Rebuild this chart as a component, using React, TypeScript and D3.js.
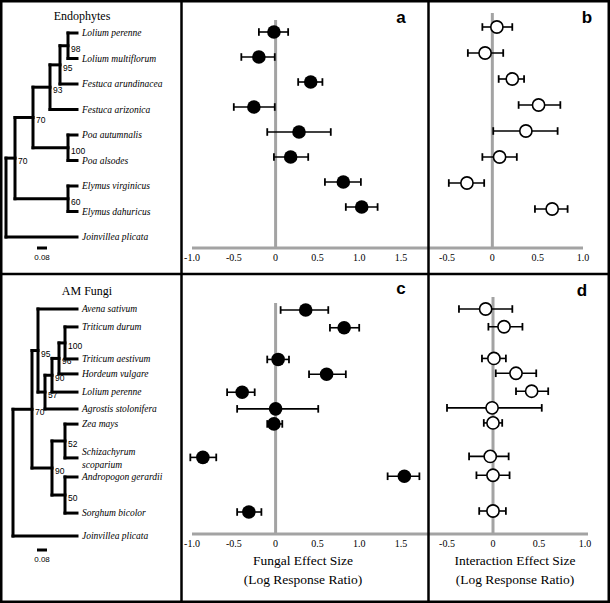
import React, { useEffect } from "react";
import * as d3 from "d3";

const W = 610;
const H = 603;

// ---------- Endophytes ----------
const endoSpecies = [
  "Lolium perenne",
  "Lolium multiflorum",
  "Festuca arundinacea",
  "Festuca arizonica",
  "Poa autumnalis",
  "Poa alsodes",
  "Elymus virginicus",
  "Elymus dahuricus",
  "Joinvillea plicata",
];
const endoFungal = [-0.02, -0.2, 0.42, -0.26, 0.28, 0.18, 0.81, 1.03];
const endoFungalLo = [-0.2, -0.41, 0.27, -0.5, -0.1, -0.02, 0.59, 0.84];
const endoFungalHi = [0.15, -0.01, 0.56, -0.01, 0.66, 0.39, 1.02, 1.22];
const endoInter = [0.05, -0.08, 0.22, 0.51, 0.37, 0.08, -0.28, 0.66];
const endoInterLo = [-0.11, -0.27, 0.07, 0.29, 0.01, -0.11, -0.48, 0.47];
const endoInterHi = [0.22, 0.12, 0.35, 0.75, 0.72, 0.27, -0.09, 0.83];

// ---------- AM Fungi ----------
const amSpecies = [
  "Avena sativum",
  "Triticum durum",
  "Triticum aestivum",
  "Hordeum vulgare",
  "Lolium perenne",
  "Agrostis stolonifera",
  "Zea mays",
  "Schizachyrum scoparium",
  "Andropogon gerardii",
  "Sorghum bicolor",
  "Joinvillea plicata",
];
const amWrapped = ["Schizachyrum scoparium"];
const amRows = [0, 0.79, 2.2, 2.86, 3.66, 4.4, 5.07, 6.56, 7.4, 8.99, 10];
const amFungal = [0.36, 0.82, 0.03, 0.61, -0.4, 0.0, -0.02, -0.87, 1.54, -0.32];
const amFungalLo = [0.06, 0.65, -0.1, 0.4, -0.58, -0.46, -0.1, -1.02, 1.34, -0.46];
const amFungalHi = [0.63, 1.0, 0.16, 0.84, -0.25, 0.51, 0.08, -0.71, 1.72, -0.17];
const amInter = [-0.08, 0.12, 0.01, 0.25, 0.42, -0.01, 0.0, -0.03, 0.0, 0.0];
const amInterLo = [-0.37, -0.05, -0.12, 0.03, 0.25, -0.5, -0.1, -0.26, -0.18, -0.15];
const amInterHi = [0.21, 0.32, 0.14, 0.47, 0.6, 0.53, 0.1, 0.17, 0.18, 0.14];

// ---------- Axis ticks ----------
const fungalTicks = [-1.0, -0.5, 0, 0.5, 1.0, 1.5];
const interTicks = [-0.5, 0, 0.5, 1.0];
const fungalTitle = ["Fungal Effect Size", "(Log Response Ratio)"];
const interTitle = ["Interaction Effect Size", "(Log Response Ratio)"];

// ---------- Trees (depth in branch-length units, leaf = row index) ----------
type TNode = { d: number; s?: string; c?: TNode[]; leaf?: number };
const L = (i: number, d: number): TNode => ({ d, leaf: i });

const endoTip = 0.568;
const endoTree: TNode = {
  d: 0,
  c: [
    {
      d: 0.072,
      s: "70",
      c: [
        {
          d: 0.216,
          s: "70",
          c: [
            {
              d: 0.352,
              s: "93",
              c: [
                {
                  d: 0.432,
                  s: "95",
                  c: [
                    { d: 0.496, s: "98", c: [L(0, endoTip), L(1, endoTip)] },
                    L(2, endoTip),
                  ],
                },
                L(3, endoTip),
              ],
            },
            { d: 0.496, s: "100", c: [L(4, endoTip), L(5, endoTip)] },
          ],
        },
        { d: 0.496, s: "60", c: [L(6, endoTip), L(7, endoTip)] },
      ],
    },
    L(8, endoTip),
  ],
};

const amTip = 0.512;
const amTree: TNode = {
  d: 0,
  c: [
    {
      d: 0.152,
      s: "70",
      c: [
        {
          d: 0.2,
          s: "95",
          c: [
            L(0, amTip),
            {
              d: 0.256,
              s: "57",
              c: [
                {
                  d: 0.312,
                  s: "90",
                  c: [
                    {
                      d: 0.368,
                      s: "96",
                      c: [
                        { d: 0.416, s: "100", c: [L(1, amTip), L(2, amTip)] },
                        L(3, amTip),
                      ],
                    },
                    L(4, amTip),
                  ],
                },
                L(5, amTip),
              ],
            },
          ],
        },
        {
          d: 0.312,
          s: "90",
          c: [
            { d: 0.416, s: "52", c: [L(6, amTip), L(7, amTip)] },
            { d: 0.416, s: "50", c: [L(8, amTip), L(9, amTip)] },
          ],
        },
      ],
    },
    L(10, amTip),
  ],
};

const scaleBarLen = 0.08;

const SERIF = "'Liberation Serif', 'Times New Roman', serif";
const SANS = "'Liberation Sans', Arial, sans-serif";
const GRAY = "#a3a3a3";

function Tree({
  root,
  x,
  y,
  labels,
  wrapped,
  barStart,
  barY,
}: {
  root: TNode;
  x: d3.ScaleLinear<number, number>;
  y: (leaf: number) => number;
  labels: string[];
  wrapped: string[];
  barStart: number;
  barY: number;
}) {
  const lines: JSX.Element[] = [];
  const texts: JSX.Element[] = [];
  let k = 0;
  const walk = (n: TNode): number => {
    if (n.leaf !== undefined) {
      const yy = y(n.leaf);
      const name = labels[n.leaf];
      const lx = x(n.d) + 5;
      if (wrapped.includes(name)) {
        const parts = name.split(" ");
        texts.push(
          <text key={"t" + k++} x={lx} y={yy - 3} fontFamily={SERIF} fontStyle="italic" fontSize={9.5}>
            {parts[0]}
          </text>
        );
        texts.push(
          <text key={"t" + k++} x={lx} y={yy + 10} fontFamily={SERIF} fontStyle="italic" fontSize={9.5}>
            {parts[1]}
          </text>
        );
      } else {
        texts.push(
          <text key={"t" + k++} x={lx} y={yy + 3} fontFamily={SERIF} fontStyle="italic" fontSize={9.5}>
            {name}
          </text>
        );
      }
      return yy;
    }
    const ys = (n.c || []).map((ch) => {
      const cy = walk(ch);
      lines.push(
        <line key={"l" + k++} x1={x(n.d)} x2={x(ch.d)} y1={cy} y2={cy} stroke="#000" strokeWidth={3} strokeLinecap="square" />
      );
      return cy;
    });
    const y0 = d3.min(ys)!;
    const y1 = d3.max(ys)!;
    lines.push(
      <line key={"l" + k++} x1={x(n.d)} x2={x(n.d)} y1={y0} y2={y1} stroke="#000" strokeWidth={3} strokeLinecap="square" />
    );
    const my = (y0 + y1) / 2;
    if (n.s) {
      texts.push(
        <text key={"t" + k++} x={x(n.d) + 3} y={my + 6} fontFamily={SANS} fontSize={8.5}>
          {n.s}
        </text>
      );
    }
    return my;
  };
  walk(root);
  return (
    <g>
      {lines}
      {texts}
      <line x1={x(barStart)} x2={x(barStart + scaleBarLen)} y1={barY} y2={barY} stroke="#000" strokeWidth={3} />
      <text x={(x(barStart) + x(barStart + scaleBarLen)) / 2} y={barY + 12} textAnchor="middle" fontFamily={SANS} fontSize={8}>
        {scaleBarLen.toFixed(2)}
      </text>
    </g>
  );
}

function Forest({
  vals,
  lo,
  hi,
  rowY,
  x,
  filled,
}: {
  vals: number[];
  lo: number[];
  hi: number[];
  rowY: (i: number) => number;
  x: d3.ScaleLinear<number, number>;
  filled: boolean;
}) {
  return (
    <g>
      {vals.map((v, i) => {
        const cy = rowY(i);
        const a = x(lo[i]);
        const b = x(hi[i]);
        return (
          <g key={i}>
            <line x1={a} x2={b} y1={cy} y2={cy} stroke="#000" strokeWidth={1.6} />
            <line x1={a} x2={a} y1={cy - 3.8} y2={cy + 3.8} stroke="#000" strokeWidth={1.8} />
            <line x1={b} x2={b} y1={cy - 3.8} y2={cy + 3.8} stroke="#000" strokeWidth={1.8} />
            <circle
              cx={x(v)}
              cy={cy}
              r={filled ? 6.8 : 6.1}
              fill={filled ? "#000" : "#fff"}
              stroke="#000"
              strokeWidth={filled ? 0 : 1.6}
            />
          </g>
        );
      })}
    </g>
  );
}

function XAxis({
  x,
  ticks,
  y,
  x0,
  x1,
  top,
}: {
  x: d3.ScaleLinear<number, number>;
  ticks: number[];
  y: number;
  x0: number;
  x1: number;
  top: number;
}) {
  return (
    <g>
      <line x1={x(0)} x2={x(0)} y1={top} y2={y} stroke={GRAY} strokeWidth={3} />
      <line x1={x0} x2={x1} y1={y} y2={y} stroke={GRAY} strokeWidth={3} />
      {ticks.map((t) => (
        <text key={t} x={x(t)} y={y + 13} textAnchor="middle" fontFamily={SERIF} fontSize={10}>
          {t === 0 ? "0" : t.toFixed(1)}
        </text>
      ))}
    </g>
  );
}

export default function App() {
  useEffect(() => {
    document.body.style.margin = "0";
  }, []);

  // x scales
  const xFungal = d3.scaleLinear().domain([-1.0, 1.5]).range([192, 401]);
  const xInterB = d3.scaleLinear().domain([-0.5, 1.0]).range([447, 583]);
  const xInterD = d3.scaleLinear().domain([-0.5, 1.0]).range([447, 585]);

  // y scales
  const yEndoA = d3.scaleLinear().domain([0, 7]).range([32, 207]);
  const yEndoB = d3.scaleLinear().domain([0, 7]).range([27, 209]);
  const yEndoTree = d3.scaleLinear().domain([0, 8]).range([33, 237]);
  const yAmTree = d3.scaleLinear().domain([0, 10]).range([309, 536]);
  const yAmC = d3.scaleLinear().domain([0, 8.99]).range([310, 512]);
  const yAmD = d3.scaleLinear().domain([0, 8.99]).range([309, 511]);

  const xEndoTree = d3.scaleLinear().domain([0, endoTip]).range([6, 77]);
  const xAmTree = d3.scaleLinear().domain([0, amTip]).range([13, 77]);

  return (
    <svg
      width={W}
      height={H}
      viewBox={`0 0 ${W} ${H}`}
      style={{ position: "fixed", left: 0, top: 0, background: "#fff" }}
    >
      <rect x={0} y={0} width={W} height={H} fill="#fff" />

      {/* Trees */}
      <text x={82} y={20} textAnchor="middle" fontFamily={SERIF} fontSize={12}>
        Endophytes
      </text>
      <Tree
        root={endoTree}
        x={xEndoTree}
        y={(i) => yEndoTree(i)}
        labels={endoSpecies}
        wrapped={[]}
        barStart={0.248}
        barY={248}
      />
      <text x={87} y={295} textAnchor="middle" fontFamily={SERIF} fontSize={12}>
        AM Fungi
      </text>
      <Tree
        root={amTree}
        x={xAmTree}
        y={(i) => yAmTree(amRows[i])}
        labels={amSpecies}
        wrapped={amWrapped}
        barStart={0.192}
        barY={550}
      />

      {/* Panel a */}
      <XAxis x={xFungal} ticks={fungalTicks} y={248} x0={xFungal(-1.0)} x1={429} top={20} />
      <Forest vals={endoFungal} lo={endoFungalLo} hi={endoFungalHi} rowY={(i) => yEndoA(i)} x={xFungal} filled={true} />
      <text x={401} y={23} textAnchor="middle" fontFamily={SANS} fontWeight="bold" fontSize={17}>
        a
      </text>

      {/* Panel b */}
      <XAxis x={xInterB} ticks={interTicks} y={248} x0={428} x1={xInterB(1.0)} top={13} />
      <Forest vals={endoInter} lo={endoInterLo} hi={endoInterHi} rowY={(i) => yEndoB(i)} x={xInterB} filled={false} />
      <text x={587} y={23} textAnchor="middle" fontFamily={SANS} fontWeight="bold" fontSize={17}>
        b
      </text>

      {/* Panel c */}
      <XAxis x={xFungal} ticks={fungalTicks} y={534} x0={xFungal(-1.0)} x1={429} top={303} />
      <Forest vals={amFungal} lo={amFungalLo} hi={amFungalHi} rowY={(i) => yAmC(amRows[i])} x={xFungal} filled={true} />
      <text x={401} y={294} textAnchor="middle" fontFamily={SANS} fontWeight="bold" fontSize={17}>
        c
      </text>
      {fungalTitle.map((t, i) => (
        <text key={t} x={303} y={565 + i * 19} textAnchor="middle" fontFamily={SERIF} fontSize={13.5}>
          {t}
        </text>
      ))}

      {/* Panel d */}
      <XAxis x={xInterD} ticks={interTicks} y={534} x0={428} x1={588} top={297} />
      <Forest vals={amInter} lo={amInterLo} hi={amInterHi} rowY={(i) => yAmD(amRows[i])} x={xInterD} filled={false} />
      <text x={582} y={296} textAnchor="middle" fontFamily={SANS} fontWeight="bold" fontSize={17}>
        d
      </text>
      {interTitle.map((t, i) => (
        <text key={t} x={515} y={565 + i * 19} textAnchor="middle" fontFamily={SERIF} fontSize={13.5}>
          {t}
        </text>
      ))}

      {/* Frame */}
      <rect x={1.25} y={1.25} width={W - 2.5} height={H - 2.5} fill="none" stroke="#000" strokeWidth={2.5} />
      <line x1={181.5} x2={181.5} y1={0} y2={H} stroke="#000" strokeWidth={2.5} />
      <line x1={428.5} x2={428.5} y1={0} y2={H} stroke="#000" strokeWidth={2.5} />
      <line x1={0} x2={W} y1={274} y2={274} stroke="#000" strokeWidth={2.5} />
    </svg>
  );
}
